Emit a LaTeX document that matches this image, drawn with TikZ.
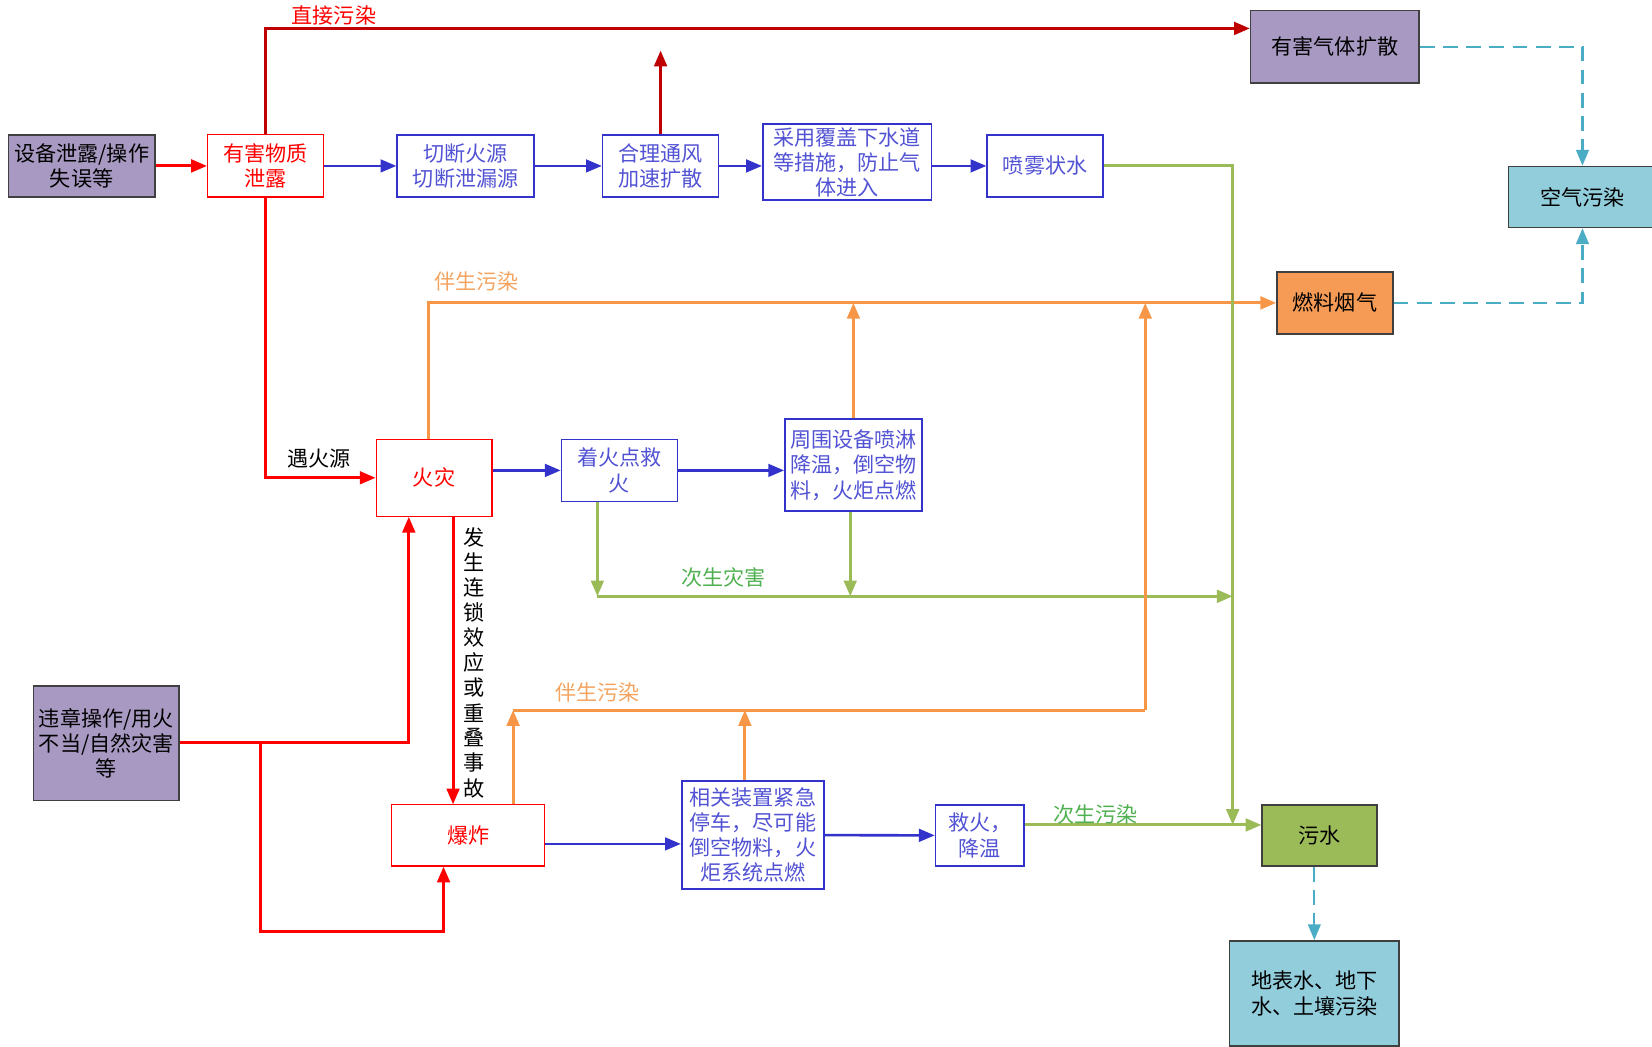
\documentclass[tikz,border=0pt]{standalone}
\usepackage{fontspec}
\setmainfont{Noto Sans CJK SC}
\usetikzlibrary{arrows.meta}

\definecolor{boxpurple}{RGB}{168,153,194}
\definecolor{boxcyan}{RGB}{146,205,220}
\definecolor{boxorange}{RGB}{246,155,85}
\definecolor{boxgreen}{RGB}{155,187,89}
\definecolor{flowblue}{RGB}{51,51,204}
\definecolor{flowred}{RGB}{255,0,0}
\definecolor{flowdred}{RGB}{192,0,0}
\definecolor{floworange}{RGB}{247,150,70}
\definecolor{flowgreen}{RGB}{155,187,89}
\definecolor{flowcyan}{RGB}{75,172,198}
\definecolor{labgreen}{RGB}{80,176,80}
\definecolor{laborange}{RGB}{244,164,96}

\newcommand\boxfont{\fontsize{11.4pt}{13.6pt}\selectfont}

\tikzset{
  flowbox/.style={rectangle, inner sep=1pt, align=center, font=\boxfont},
  redbox/.style={flowbox, draw=flowred, text=flowred, line width=0.6pt},
  bluebox/.style={flowbox, draw=flowblue, text=flowblue!85!white, line width=0.9pt},
  endbox/.style={flowbox, draw=black!75, line width=0.8pt},
  lbl/.style={font=\boxfont, inner sep=1pt},
  red arrow/.style={-{Triangle[length=0.3cm,width=0.24cm]}, flowred, line width=1.6pt},
  dred arrow/.style={-{Triangle[length=0.3cm,width=0.24cm]}, flowdred, line width=1.6pt},
  blue arrow/.style={-{Triangle[length=0.3cm,width=0.24cm]}, flowblue, line width=1.4pt},
  green arrow/.style={-{Triangle[length=0.3cm,width=0.24cm]}, flowgreen, line width=1.6pt},
  orange arrow/.style={-{Triangle[length=0.3cm,width=0.24cm]}, floworange, line width=1.6pt},
  orange line/.style={floworange, line width=1.6pt},
  red line/.style={flowred, line width=1.6pt},
  cyan arrow/.style={-{Triangle[length=0.3cm,width=0.24cm]}, flowcyan, line width=1.2pt,
                     dash pattern=on 0.28cm off 0.16cm},
}

\begin{document}
\begin{tikzpicture}
    \useasboundingbox (0,0) rectangle (31.36,19.86);

    % === Top row: leak and its handling ===
    \node[endbox, fill=boxpurple, minimum width=2.78cm, minimum height=1.18cm]
      (dev) at (1.55,16.71) {设备泄露/操作\\失误等};
    \node[redbox, minimum width=2.20cm, minimum height=1.18cm]
      (leak) at (5.04,16.71) {有害物质\\泄露};
    \node[bluebox, minimum width=2.60cm, minimum height=1.18cm]
      (cut) at (8.84,16.71) {切断火源\\切断泄漏源};
    \node[bluebox, minimum width=2.20cm, minimum height=1.18cm]
      (vent) at (12.54,16.71) {合理通风\\加速扩散};
    \node[bluebox, minimum width=3.20cm, minimum height=1.44cm]
      (cover) at (16.08,16.78) {采用覆盖下水道\\等措施，防止气\\体进入};
    \node[bluebox, minimum width=2.20cm, minimum height=1.18cm]
      (spray) at (19.84,16.71) {喷雾状水};

    % === Right side: where the pollution ends up ===
    \node[endbox, fill=boxpurple, minimum width=3.20cm, minimum height=1.38cm]
      (gas) at (25.34,18.97) {有害气体扩散};
    \node[endbox, fill=boxcyan, minimum width=2.80cm, minimum height=1.16cm]
      (air) at (30.04,16.12) {空气污染};
    \node[endbox, fill=boxorange, minimum width=2.20cm, minimum height=1.18cm]
      (smoke) at (25.34,14.11) {燃料烟气};
    \node[endbox, fill=boxgreen, minimum width=2.18cm, minimum height=1.16cm]
      (sewage) at (25.05,4.00) {污水};
    \node[endbox, fill=boxcyan, minimum width=3.22cm, minimum height=2.00cm]
      (soil) at (24.95,1.00) {地表水、地下\\水、土壤污染};

    % === Middle row: fire ===
    \node[redbox, minimum width=2.20cm, minimum height=1.46cm]
      (fire) at (8.24,10.79) {火灾};
    \node[bluebox, minimum width=2.20cm, minimum height=1.18cm]
      (rescue) at (11.76,10.93) {着火点救\\火};
    \node[bluebox, minimum width=2.60cm, minimum height=1.74cm]
      (cool) at (16.20,11.03) {周围设备喷淋\\降温，倒空物\\料，火炬点燃};

    % === Bottom row: explosion ===
    \node[endbox, fill=boxpurple, minimum width=2.76cm, minimum height=2.18cm]
      (viol) at (2.02,5.75) {违章操作/用火\\不当/自然灾害\\等};
    \node[redbox, minimum width=2.90cm, minimum height=1.16cm]
      (expl) at (8.89,4.00) {爆炸};
    \node[bluebox, minimum width=2.70cm, minimum height=2.06cm]
      (shut) at (14.29,4.01) {相关装置紧急\\停车，尽可能\\倒空物料，火\\炬系统点燃};
    \node[bluebox, minimum width=1.68cm, minimum height=1.16cm]
      (fight) at (18.60,4.00) {救火，\\降温};

    % corner points of the long connectors
    \coordinate (topline) at (5.04,19.32);
    \coordinate (ventup)  at (12.54,18.90);
    \coordinate (gline)   at (11.34,8.54);
    \coordinate (gright)  at (23.40,8.54);
    \coordinate (gjoin)   at (23.40,4.20);
    \coordinate (oleft)   at (9.74,6.38);
    \coordinate (oright)  at (21.74,6.38);
    \coordinate (vbr)     at (4.94,5.76);
    \coordinate (vlow)    at (4.94,2.18);

    % === Top row connectors ===
    \draw[red arrow] (dev) -- (leak);
    \draw[blue arrow] (leak) -- (cut);
    \draw[blue arrow] (cut) -- (vent);
    \draw[blue arrow] (vent) -- (cover.west |- vent);
    \draw[blue arrow] (cover.east |- spray) -- (spray);
    \draw[dred arrow] (leak.north) -- (topline) -- (gas.west |- topline);
    \node[lbl, text=flowred] (direct) at (6.34,19.56) {直接污染};
    \draw[dred arrow] (vent.north) -- (ventup);

    % dashed links to air pollution
    \draw[cyan arrow] (gas.east) -| (air.north);
    \draw[cyan arrow] (smoke.east) -| (air.south);

    % === Fire branch ===
    \draw[red arrow] (leak.south) |- (fire.west);
    \node[lbl] (ignite) at (6.06,11.16) {遇火源};
    \draw[orange arrow] ([xshift=-0.1cm]fire.north) |- (smoke.west);
    \node[lbl, text=laborange] (assoc1) at (9.04,14.52) {伴生污染};
    \draw[orange arrow] (cool.north) -- (cool.north |- smoke.west);
    \draw[blue arrow] (fire.east |- rescue) -- (rescue);
    \draw[blue arrow] (rescue) -- (rescue.east -| cool.west);
    \draw[green arrow] (rescue.south -| gline) -- (gline);
    \draw[green arrow] ([xshift=-0.06cm]cool.south) -- ([xshift=-0.06cm]cool.south |- gline);
    \draw[green arrow] (gline) -- (gright);
    \node[lbl, text=labgreen] (second1) at (13.74,8.90) {次生灾害};
    \draw[green arrow] (spray.east) -| (gjoin);

    % chain reaction text, one character per line
    \draw[red arrow] ([xshift=0.36cm]fire.south) -- ([xshift=0.36cm]fire.south |- expl.north);
    \foreach \ch [count=\i] in {发,生,连,锁,效,应,或,重,叠,事,故} {
      \pgfmathsetmacro{\cy}{9.66 - (\i-1)*0.476}
      \node[lbl] (chain\i) at (9.00,\cy) {\ch};
    }

    % === Explosion branch ===
    \draw[red arrow] (viol.east |- vbr) -| ([xshift=-0.48cm]fire.south);
    \draw[red arrow] (vbr) -- (vlow) -| ([xshift=-0.47cm]expl.south);
    \draw[orange arrow] (expl.north -| oleft) -- (oleft);
    \draw[orange line] (oleft) -- (oright);
    \draw[orange arrow] (oright) -- (oright |- smoke.west);
    \draw[orange arrow] ([xshift=-0.15cm]shut.north) -- ([xshift=-0.15cm]shut.north |- oleft);
    \node[lbl, text=laborange] (assoc2) at (11.34,6.72) {伴生污染};
    \draw[blue arrow] ([yshift=-0.16cm]expl.east) -- ([yshift=-0.16cm]expl.east -| shut.west);
    \draw[blue arrow] (shut) -- (fight);
    \draw[green arrow] (fight.east |- gjoin) -- (sewage.west |- gjoin);
    \node[lbl, text=labgreen] (second2) at (20.80,4.40) {次生污染};
    \draw[cyan arrow] (sewage.south -| soil.north) -- (soil.north);
\end{tikzpicture}
\end{document}
